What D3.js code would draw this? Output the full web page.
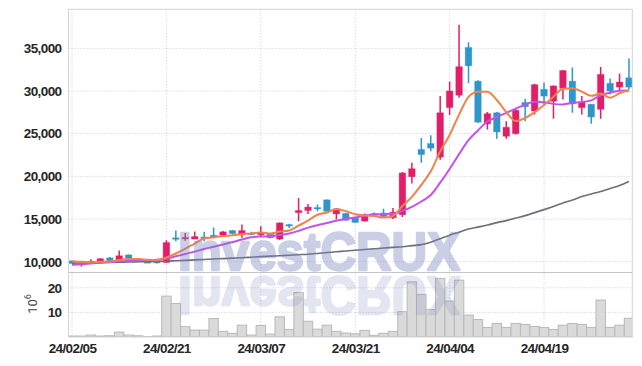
<!DOCTYPE html>
<html>
<head>
<meta charset="utf-8">
<script src="https://cdnjs.cloudflare.com/ajax/libs/d3/7.8.5/d3.min.js"></script>
<style>
  body { margin: 0; background: #fff; }
  svg { display: block; font-family: Roboto, 'Liberation Sans', sans-serif; }
</style>
</head>
<body>
<svg width="642" height="366" xmlns:xlink="http://www.w3.org/1999/xlink"></svg>
<script>
// trading days (KRX)
const dates = [
  '2024-02-05', '2024-02-06', '2024-02-07', '2024-02-08', '2024-02-13', '2024-02-14', '2024-02-15', '2024-02-16',
  '2024-02-19', '2024-02-20', '2024-02-21', '2024-02-22', '2024-02-23', '2024-02-26', '2024-02-27', '2024-02-28',
  '2024-02-29', '2024-03-04', '2024-03-05', '2024-03-06', '2024-03-07', '2024-03-08', '2024-03-11', '2024-03-12',
  '2024-03-13', '2024-03-14', '2024-03-15', '2024-03-18', '2024-03-19', '2024-03-20', '2024-03-21', '2024-03-22',
  '2024-03-25', '2024-03-26', '2024-03-27', '2024-03-28', '2024-03-29', '2024-04-01', '2024-04-02', '2024-04-03',
  '2024-04-04', '2024-04-05', '2024-04-08', '2024-04-09', '2024-04-11', '2024-04-12', '2024-04-15', '2024-04-16',
  '2024-04-17', '2024-04-18', '2024-04-19', '2024-04-22', '2024-04-23', '2024-04-24', '2024-04-25', '2024-04-26',
  '2024-04-29', '2024-04-30', '2024-05-02', '2024-05-03'
];

const open = [10100, 9700, 9950, 10000, 10450, 10050, 10800, 10350, 10000, 10100, 9900, 12800, 12800, 12650, 12900,
  13100, 13100, 13650, 13200, 13350, 13150, 13350, 12650, 14350, 15750, 16000, 16350, 17250, 15600, 15650,
  15150, 14750, 15650, 15700, 15150, 15500, 19950, 23150, 23850, 22250, 28050, 29500, 35100, 31150, 26150,
  27450, 24700, 25000, 28650, 27650, 30200, 28800, 30300, 31150, 28050, 28450, 27850, 30900, 30450, 31550];
const high = [10150, 9850, 10300, 10400, 10550, 11300, 10850, 10400, 10050, 10150, 12500, 13650, 13350, 13550, 13500,
  14000, 13600, 13700, 14350, 13500, 14150, 13400, 14600, 14450, 17450, 16750, 16700, 17300, 16300, 15700,
  15200, 15650, 15750, 16200, 16300, 20500, 21600, 24500, 24800, 29400, 31100, 37750, 35700, 31250, 27550,
  27550, 26450, 27850, 29100, 30850, 31000, 30650, 32450, 32750, 29400, 28450, 32800, 31450, 32050, 33800];
const low = [9750, 9450, 9850, 9950, 10100, 10000, 10350, 9950, 9900, 9800, 9850, 12400, 12450, 12650, 12400,
  12750, 13050, 13250, 12800, 13100, 12950, 12750, 12550, 13950, 14750, 15600, 15900, 15900, 14950, 14800,
  14550, 14700, 15500, 15250, 15000, 15250, 19150, 21600, 22950, 21950, 27200, 29200, 30900, 26250, 25500,
  24400, 24400, 24900, 26450, 27250, 28250, 26750, 29000, 27450, 27250, 26150, 26750, 29600, 30100, 30200];
const close = [9800, 9800, 10050, 10350, 10100, 10700, 10400, 10000, 9950, 9850, 12250, 12750, 12850, 12950, 12800,
  12900, 13500, 13300, 13650, 13200, 13450, 12800, 14550, 14300, 16000, 16400, 16250, 15900, 16200, 14850,
  14600, 15500, 15600, 15300, 15800, 20400, 20900, 22550, 23300, 27450, 30000, 32850, 32950, 26350, 27350,
  25200, 25750, 27750, 28150, 30750, 29400, 30600, 32400, 28500, 28700, 26950, 31950, 30000, 31050, 30450];

// volume, millions of shares
const volume = [0.4, 0.4, 0.8, 0.4, 0.5, 2.0, 0.8, 0.5, 0.1, 0.4, 16.6, 13.6, 4.2, 2.8, 2.8, 7.5, 2.3, 1.5, 4.8, 0.8,
  4.7, 1.2, 8.2, 3.1, 18.1, 6.4, 3.2, 4.8, 2.3, 1.6, 1.3, 2.7, 0.7, 1.5, 2.3, 10.3, 22.4, 17.3, 11.2, 23.8,
  14.6, 23.1, 8.9, 7.1, 3.9, 5.5, 3.9, 5.5, 5.1, 4.3, 3.9, 3.1, 4.8, 5.5, 5.1, 3.9, 15.0, 3.9, 4.8, 7.6];

// moving averages
const ma5 = [10050, 9980, 9950, 9980, 10020, 10200, 10320, 10310, 10230, 10180, 10490, 10960, 11530, 12130, 12720,
  12850, 13000, 13090, 13230, 13310, 13420, 13280, 13530, 13660, 14220, 14810, 15500, 15770, 16150, 15920,
  15560, 15410, 15350, 15170, 15360, 16520, 17600, 18990, 20590, 22920, 24840, 27230, 29310, 29920, 29900,
  28940, 27520, 26480, 26840, 27520, 28360, 29330, 30260, 30330, 29920, 29430, 29700, 29220, 29730, 30080];
const ma10 = [9650, 9710, 9780, 9880, 9960, 10040, 10090, 10130, 10180, 10240, 10380, 10630, 10900, 11180, 11490,
  11750, 12020, 12300, 12600, 12860, 12950, 12980, 13120, 13310, 13610, 13990, 14280, 14540, 14800, 15000,
  15180, 15400, 15510, 15590, 15610, 15960, 16420, 17050, 17810, 19260, 20860, 22600, 24230, 25380, 26420,
  26950, 27430, 27930, 28400, 28740, 28690, 28490, 28430, 28600, 28720, 28900, 29500, 29790, 30030, 30060];
const ma60 = [9820, 9850, 9870, 9890, 9920, 9940, 9970, 9990, 10010, 10040, 10060, 10110, 10160, 10210, 10260,
  10320, 10360, 10420, 10470, 10530, 10590, 10650, 10700, 10760, 10820, 10880, 10970, 11070, 11160, 11260,
  11350, 11430, 11510, 11600, 11680, 11760, 11880, 12000, 12290, 12700, 13110, 13460, 13820, 14050, 14290,
  14580, 14810, 15110, 15400, 15750, 16100, 16460, 16870, 17220, 17630, 17930, 18220, 18570, 18920, 19390];

const priceTicks = [10000, 15000, 20000, 25000, 30000, 35000];
const volumeTicks = [10, 20];
const labelDates = ['2024-02-05', '2024-02-21', '2024-03-07', '2024-03-21', '2024-04-04', '2024-04-19'];

const colors = { up: '#e21e68', down: '#2e96c8', ma5: '#f0824a', ma10: '#c452ea', ma60: '#6e6e78' };

// panel geometry
const box = { left: 68.5, right: 632.3, top: 9.3, mid: 272.5, bottom: 337 };

const svg = d3.select('svg');
const defs = svg.append('defs');

const x = d3.scalePoint().domain(dates).range([box.left + 3.5, box.right - 3.3]);
const y = d3.scaleLinear().domain([8735, 39570]).range([box.mid, box.top]);
const yv = d3.scaleLinear().domain([0, 26.2]).range([box.bottom, box.mid]);
const step = x.step();

defs.append('clipPath').attr('id', 'plot')
  .append('rect').attr('x', box.left).attr('y', box.top)
  .attr('width', box.right - box.left).attr('height', box.bottom - box.top);

// grid
const grid = svg.append('g').attr('stroke', '#c6c9da').attr('stroke-dasharray', '1,2');
grid.selectAll('.gx').data(labelDates).join('line')
  .attr('x1', d => x(d)).attr('x2', d => x(d))
  .attr('y1', box.top).attr('y2', box.bottom);
grid.selectAll('.gy').data(priceTicks).join('line')
  .attr('x1', box.left).attr('x2', box.right)
  .attr('y1', d => y(d)).attr('y2', d => y(d));
grid.selectAll('.gv').data(volumeTicks).join('line')
  .attr('x1', box.left).attr('x2', box.right)
  .attr('y1', d => yv(d)).attr('y2', d => yv(d));

const plot = svg.append('g').attr('clip-path', 'url(#plot)');

// volume bars
plot.append('g').selectAll('rect').data(volume).join('rect')
  .attr('x', (d, i) => x(dates[i]) - step / 2)
  .attr('width', step)
  .attr('y', d => yv(d))
  .attr('height', d => yv(0) - yv(d))
  .attr('fill', '#dadada').attr('stroke', '#b9b9b9').attr('stroke-width', 1);

// candles
const candles = plot.append('g').selectAll('g').data(dates).join('g')
  .attr('fill', (d, i) => close[i] >= open[i] ? colors.up : colors.down)
  .attr('stroke', (d, i) => close[i] >= open[i] ? colors.up : colors.down);
candles.append('line')
  .attr('x1', d => x(d)).attr('x2', d => x(d))
  .attr('y1', (d, i) => y(high[i])).attr('y2', (d, i) => y(low[i]))
  .attr('stroke-width', 1.5);
candles.append('rect')
  .attr('x', d => x(d) - 3.3).attr('width', 6.6)
  .attr('y', (d, i) => y(Math.max(open[i], close[i])))
  .attr('height', (d, i) => Math.max(1.5, Math.abs(y(open[i]) - y(close[i]))))
  .attr('stroke-opacity', 0.3).attr('stroke-width', 1);

// moving averages
const line = d3.line().x((d, i) => x(dates[i])).y(d => y(d)).curve(d3.curveMonotoneX);
[[ma60, colors.ma60, 1.6], [ma10, colors.ma10, 2], [ma5, colors.ma5, 2]].forEach(function(m) {
  plot.append('path').attr('d', line(m[0]))
    .attr('fill', 'none').attr('stroke', m[1]).attr('stroke-width', m[2]);
});

// watermark, its reflection reuses the same text
defs.append('text').attr('id', 'wm').attr('x', 178).attr('y', 270)
  .attr('textLength', 282).attr('lengthAdjust', 'spacingAndGlyphs')
  .attr('font-family', "'Liberation Sans', Arial, sans-serif").attr('font-weight', 'bold')
  .attr('font-size', 53).attr('fill', 'rgb(120,130,190)')
  .attr('stroke', 'rgb(120,130,190)').attr('stroke-width', 2.4).attr('stroke-linejoin', 'round')
  .text('InvestCRUX');
const mark = svg.append('g').attr('clip-path', 'url(#plot)');
mark.append('use').attr('href', '#wm').attr('opacity', 0.38);
mark.append('use').attr('href', '#wm').attr('opacity', 0.2)
  .attr('transform', 'translate(0,547) scale(1,-1)');

// frame
svg.append('rect').attr('x', box.left).attr('y', box.top)
  .attr('width', box.right - box.left).attr('height', box.bottom - box.top)
  .attr('fill', 'none').attr('stroke', '#d2d2d8');
svg.append('line').attr('x1', box.left).attr('x2', box.right)
  .attr('y1', box.mid).attr('y2', box.mid).attr('stroke', '#c4c4cc');

// axes
const styleAxis = function(g) {
  g.select('.domain').remove();
  g.selectAll('.tick line').remove();
  g.selectAll('text').attr('fill', '#262626').attr('font-size', 13.5)
    .attr('font-weight', 'bold').attr('letter-spacing', -0.6);
};

svg.append('g').attr('transform', 'translate(' + box.left + ',0)')
  .call(d3.axisLeft(y).tickValues(priceTicks).tickFormat(d3.format(',')).tickSize(0).tickPadding(7))
  .call(styleAxis);
svg.append('g').attr('transform', 'translate(' + box.left + ',0)')
  .call(d3.axisLeft(yv).tickValues(volumeTicks).tickSize(0).tickPadding(7))
  .call(styleAxis);
svg.append('g').attr('transform', 'translate(0,' + box.bottom + ')')
  .call(d3.axisBottom(x).tickValues(labelDates).tickSize(0).tickPadding(6)
    .tickFormat(d => d.slice(2).replace(/-/g, '/')))
  .call(styleAxis);

// unit label
const unit = svg.append('text').attr('transform', 'translate(37,304) rotate(-90)')
  .attr('text-anchor', 'middle').attr('fill', '#444').attr('font-size', 13);
unit.append('tspan').text('10');
unit.append('tspan').attr('font-size', 9).attr('dy', -6).text('6');
</script>
</body>
</html>
